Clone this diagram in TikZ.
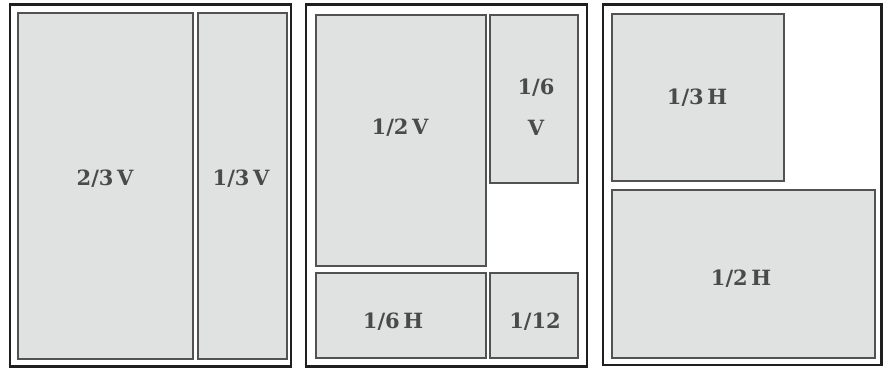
\documentclass[tikz,border=0pt]{standalone}
\usepackage{fontspec}
\setmainfont{DejaVu Serif}
\begin{document}
\begin{tikzpicture}[x=1pt,y=-1pt,
  frame/.style={draw=black!88,line width=2.4pt},
  pane/.style={draw=black!68,line width=1.3pt,fill=paneFill},
  lbl/.style={text=labelGray,font=\fontsize{21}{24}\selectfont\bfseries,inner sep=0pt}]
\definecolor{paneFill}{HTML}{DFE2E1}
\definecolor{labelGray}{HTML}{4A4A4A}
\useasboundingbox (0,0) rectangle (883,369);
% panel 1
\draw[frame] (10,4.5) rectangle (291,366.5);
\draw[pane] (18,13) rectangle (193,359);
\draw[pane] (198,13) rectangle (287,359);
\node[lbl] (a) at (105,179) {2/3\,V};
\node[lbl] (b) at (241,179) {1/3\,V};
% panel 2
\draw[frame] (306,4.5) rectangle (587,366.5);
\draw[pane] (316,15) rectangle (486,266);
\draw[pane] (490,15) rectangle (578,183);
\draw[pane] (316,273) rectangle (486,358);
\draw[pane] (490,273) rectangle (578,358);
\node[lbl] (c) at (400,128) {1/2\,V};
\node[lbl] (d) at (536,88) {1/6};
\node[lbl] (e) at (536,128) {V};
\node[lbl] (f) at (393,322) {1/6\,H};
\node[lbl] (g) at (535,322) {1/12};
% panel 3
\draw[frame] (603,4.5) rectangle (881.5,365);
\draw[pane] (612,14) rectangle (784,181);
\draw[pane] (612,190) rectangle (875,358);
\node[lbl] (h) at (697,98) {1/3\,H};
\node[lbl] (i) at (741,279) {1/2\,H};
\end{tikzpicture}
\end{document}
